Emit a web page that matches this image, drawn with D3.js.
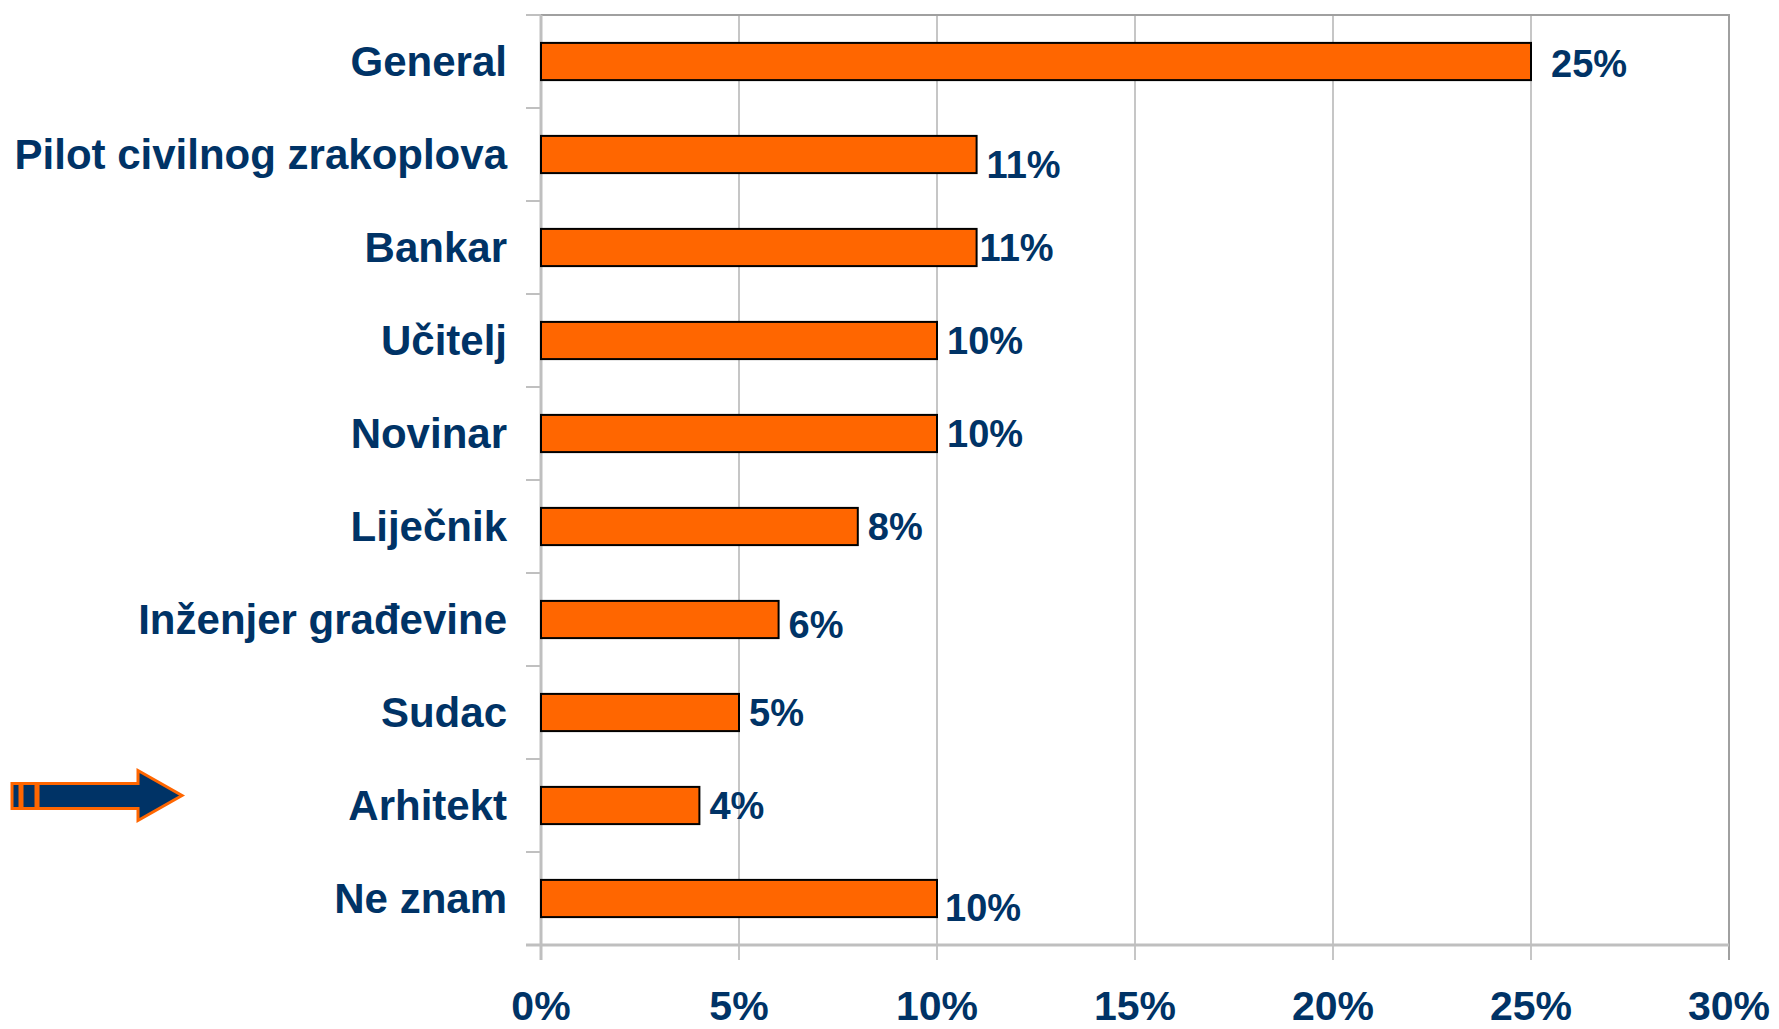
<!DOCTYPE html>
<html>
<head>
<meta charset="utf-8">
<script src="https://cdn.jsdelivr.net/npm/d3@7"></script>
<style>
  html, body { margin: 0; padding: 0; background: #fff; }
  text { font-family: "Liberation Sans", Arial, sans-serif; font-weight: bold; fill: #003366; }
</style>
</head>
<body>
<div id="chart-container"></div>
<script>
const categories = ["General", "Pilot civilnog zrakoplova", "Bankar", "Učitelj", "Novinar",
                    "Liječnik", "Inženjer građevine", "Sudac", "Arhitekt", "Ne znam"];
const values = [0.25, 0.11, 0.11, 0.10, 0.10, 0.08, 0.06, 0.05, 0.04, 0.10];
const valueLabels = ["25%", "11%", "11%", "10%", "10%", "8%", "6%", "5%", "4%", "10%"];
const xTicks = [0, 0.05, 0.10, 0.15, 0.20, 0.25, 0.30];

// small hand nudges of the value labels, as in the original slide
const labelNudge = { "General": [10, 2], "Pilot civilnog zrakoplova": [0, 10],
                     "Bankar": [-7, 0], "Inženjer građevine": [0, 5], "Ne znam": [-2, 9] };

const width = 1779, height = 1029;
const plotLeft = 541, plotRight = 1729, plotTop = 15, plotBottom = 945;

const svg = d3.select("#chart-container")
    .append("svg")
    .attr("width", width)
    .attr("height", height);

const x = d3.scaleLinear().domain([0, 0.30]).range([plotLeft, plotRight]);
const y = d3.scaleBand().domain(categories).range([plotTop, plotBottom])
    .paddingInner(0.6).paddingOuter(0.3);

// vertical gridlines (extend below the axis as ticks)
svg.append("g").selectAll("line")
    .data(xTicks.slice(1, -1))
    .enter().append("line")
    .attr("x1", d => x(d)).attr("x2", d => x(d))
    .attr("y1", plotTop).attr("y2", plotBottom + 15)
    .attr("stroke", "#c6c6c6").attr("stroke-width", 2);

// plot frame top and right
svg.append("path")
    .attr("d", `M${plotLeft},${plotTop}H${plotRight}V${plotBottom + 15}`)
    .attr("fill", "none").attr("stroke", "#a0a0a0").attr("stroke-width", 2);

// category boundaries as y ticks
const gap = (y.step() - y.bandwidth()) / 2;
const bounds = categories.map(c => y(c) - gap).concat([plotBottom]);
svg.append("g").selectAll("line")
    .data(bounds)
    .enter().append("line")
    .attr("x1", plotLeft - 15).attr("x2", plotLeft)
    .attr("y1", d => d).attr("y2", d => d)
    .attr("stroke", "#c0c0c0").attr("stroke-width", 2);

// axes lines
svg.append("line")
    .attr("x1", plotLeft - 15).attr("x2", plotRight)
    .attr("y1", plotBottom).attr("y2", plotBottom)
    .attr("stroke", "#bfbfbf").attr("stroke-width", 3);
svg.append("line")
    .attr("x1", plotLeft).attr("x2", plotLeft)
    .attr("y1", plotTop).attr("y2", plotBottom + 15)
    .attr("stroke", "#bfbfbf").attr("stroke-width", 3);

// bars
svg.append("g").selectAll("rect")
    .data(categories)
    .enter().append("rect")
    .attr("x", x(0))
    .attr("y", c => y(c))
    .attr("width", (c, i) => x(values[i]) - x(0))
    .attr("height", y.bandwidth())
    .attr("fill", "#ff6600")
    .attr("stroke", "#000")
    .attr("stroke-width", 2);

// category labels
svg.append("g").selectAll("text")
    .data(categories)
    .enter().append("text")
    .attr("x", plotLeft - 34)
    .attr("y", c => y(c) + y.bandwidth() / 2 + 14)
    .attr("text-anchor", "end")
    .attr("font-size", 42)
    .text(c => c);

// value labels
svg.append("g").selectAll("text")
    .data(categories)
    .enter().append("text")
    .attr("x", (c, i) => x(values[i]) + 10 + (labelNudge[c] ? labelNudge[c][0] : 0))
    .attr("y", c => y(c) + y.bandwidth() / 2 + 13 + (labelNudge[c] ? labelNudge[c][1] : 0))
    .attr("font-size", 38)
    .text((c, i) => valueLabels[i]);

// x tick labels
svg.append("g").selectAll("text")
    .data(xTicks)
    .enter().append("text")
    .attr("x", d => x(d))
    .attr("y", 1020)
    .attr("text-anchor", "middle")
    .attr("font-size", 41)
    .text(d => Math.round(d * 100) + "%");

// arrow pointing at "Arhitekt"
const ay = y("Arhitekt") + y.bandwidth() / 2 - 10;
const arrow = svg.append("g").attr("stroke", "#ff6600").attr("stroke-width", 3).attr("fill", "#003366");
arrow.append("rect").attr("x", 12).attr("y", ay - 12).attr("width", 8).attr("height", 25);
arrow.append("rect").attr("x", 22).attr("y", ay - 12).attr("width", 14).attr("height", 25);
arrow.append("path")
    .attr("d", `M38,${ay - 12}H138V${ay - 25}L182,${ay}L138,${ay + 25}V${ay + 13}H38Z`);
</script>
</body>
</html>
